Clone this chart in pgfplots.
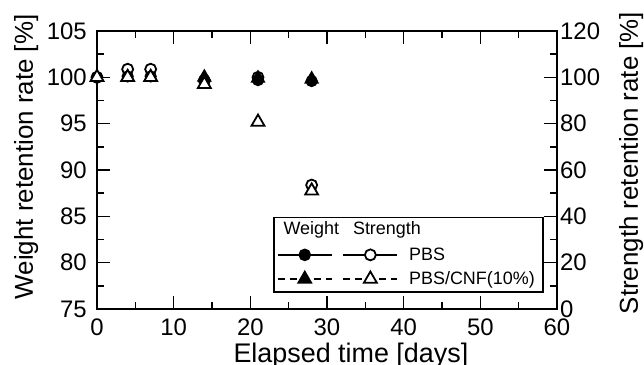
\documentclass[border=0pt]{standalone}
\usepackage{pgfplots}
\pgfplotsset{compat=1.18}
\usepackage{fontspec}
\setmainfont{Liberation Sans}
\newcommand\lf{\fontsize{18}{21}\selectfont}
\begin{document}
\begin{tikzpicture}
\pgfplotsset{
  base/.style={
    at={(0,0)}, anchor=south west,
    scale only axis, width=460bp, height=278bp,
    font=\fontsize{26}{30}\selectfont,
    ticklabel style={font=\fontsize{24}{28}\selectfont},
    /pgf/number format/assume math mode=true,
    axis line style={line width=1.6bp},
    tick style={line width=1.5bp, black},
    tick align=inside,
    major tick length=13bp, minor tick length=7bp,
    xmin=0, xmax=60,
  },
  fc/.style={only marks, mark=*, mark size=5.5bp, mark options={fill=black, draw=black, solid, line width=1.2bp}},
  oc/.style={only marks, mark=*, mark size=5.5bp, mark options={fill=white, draw=black, solid, line width=1.8bp}},
  ft/.style={only marks, mark=triangle*, mark size=7.5bp, mark options={fill=black, draw=black, solid, line width=1.2bp}},
  ot/.style={only marks, mark=triangle*, mark size=7.5bp, mark options={fill=white, draw=black, solid, line width=1.8bp}},
}
% strength of PBS (right-axis scale), drawn first so that it lies beneath
\begin{axis}[base, ymin=0, ymax=120, hide axis]
\addplot[oc] coordinates {(0,100) (4,103.5) (7,103.5) (14,98.5) (21,100) (28,53.5)};
\end{axis}
\begin{axis}[base,
  ymin=75, ymax=105,
  xtick={0,10,...,60}, ytick={75,80,...,105},
  minor x tick num=1, minor y tick num=1,
  ytick pos=left,
  xticklabel style={inner sep=0pt, yshift=-10bp},
  yticklabel style={inner sep=0pt, xshift=-10bp},
  xlabel={Elapsed time [days]},
  ylabel={Weight retention rate [\%]},
  xlabel style={at={(axis description cs:0.552,-0.194)}, anchor=base, font=\fontsize{27}{30}\selectfont},
  ylabel style={at={(axis description cs:-0.154,0.547)}, anchor=center, rotate=0},
  legend columns=2,
  legend cell align=left,
  legend style={at={(axis description cs:0.383,0.058)}, anchor=south west,
    draw=black, line width=1.6bp, fill=white, font=\lf,
    inner xsep=3bp, inner ysep=4bp, row sep=6bp,
    nodes={inner xsep=5bp, inner ysep=1bp}},
  legend image code/.code={
    \draw[mark repeat=2, mark phase=2, line width=1.6bp, #1]
      plot coordinates {(0bp,0bp) (27bp,0bp) (54bp,0bp)};
  },
]
\addplot[fc, forget plot] coordinates {(0,100) (4,100.1) (7,100.1) (14,99.7) (21,99.7) (28,99.6)};
\addplot[ft, forget plot] coordinates {(0,100) (4,100) (7,100) (14,100) (21,99.9) (28,99.8)};
\addlegendimage{legend image code/.code={
  \node[overlay, anchor=base west, inner sep=0pt] at (5bp,-4bp) {\lf Weight\hspace{14bp}Strength};}}
\addlegendentry{\lf\strut}
\addlegendimage{empty legend}
\addlegendentry{}
\addlegendimage{solid, mark=*, mark size=5.5bp, mark options={fill=black, solid}}
\addlegendentry{\lf\strut}
\addlegendimage{solid, mark=*, mark size=5.5bp, mark options={fill=white, solid, line width=1.8bp}}
\addlegendentry{\lf\hspace{6bp}PBS}
\addlegendimage{dash pattern=on 7bp off 5bp, mark=triangle*, mark size=7.5bp, mark options={fill=black, solid}}
\addlegendentry{\lf\strut}
\addlegendimage{dash pattern=on 7bp off 5bp, mark=triangle*, mark size=7.5bp, mark options={fill=white, solid, line width=1.8bp}}
\addlegendentry{\lf\hspace{6bp}PBS/CNF(10\%)}
\end{axis}
\begin{axis}[base,
  ymin=0, ymax=120,
  ytick={0,20,...,120}, minor y tick num=1,
  axis x line=none, axis y line*=right,
  yticklabel style={inner sep=0pt, xshift=3bp},
  ylabel={Strength retention rate [\%]},
  ylabel style={at={(axis description cs:1.161,0.525)}, anchor=center, rotate=0},
]
\addplot[ot] coordinates {(0,100) (4,100) (7,100) (14,97) (21,80.7) (28,51)};
\end{axis}
\pgfresetboundingbox
\path[use as bounding box] (-97bp,-56bp) rectangle (547bp,309bp);
\end{tikzpicture}
\end{document}
